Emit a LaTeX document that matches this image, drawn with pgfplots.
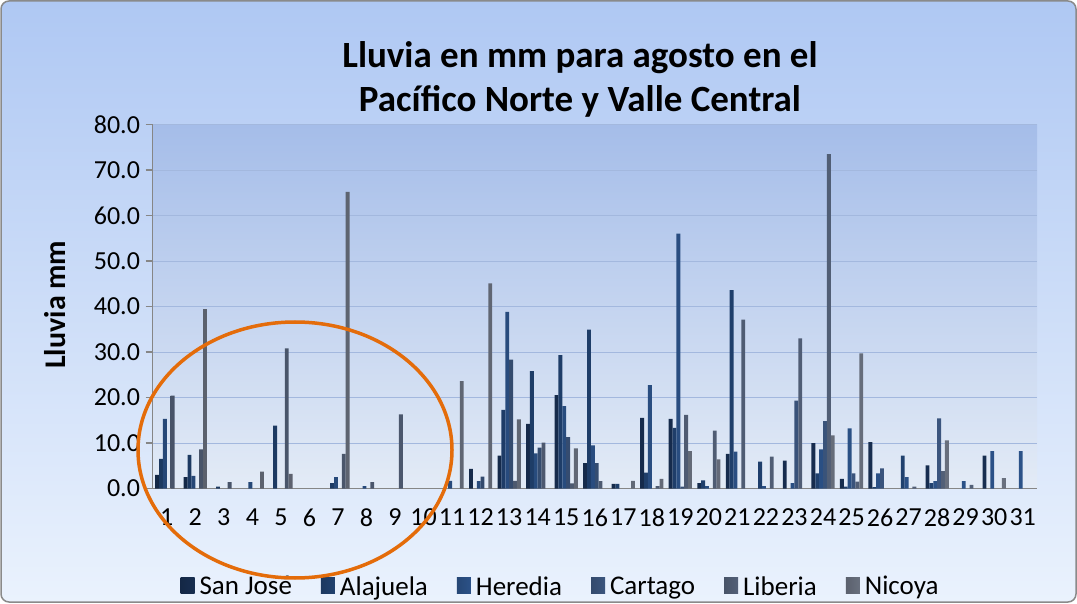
\documentclass[border=0pt]{standalone}
\usepackage{fontspec}
\setmainfont{Carlito}
\usepackage{pgfplots}
\pgfplotsset{compat=1.18}
\usepackage{pgfplotstable}

\definecolor{cSJ}{HTML}{1F3D6B}
\definecolor{cAL}{HTML}{2B5794}
\definecolor{cHE}{HTML}{3A6DB5}
\definecolor{cCA}{HTML}{4F72A8}
\definecolor{cLI}{HTML}{6E80A0}
\definecolor{cNI}{HTML}{8C95A8}
\definecolor{bgtop}{HTML}{AFC8F3}
\definecolor{bgbot}{HTML}{EAF2FD}
\definecolor{patop}{HTML}{A5BDE9}
\definecolor{pabot}{HTML}{E3EBF6}
\definecolor{bordergray}{HTML}{8A8A8A}
\definecolor{axgray}{HTML}{868686}
\definecolor{gridc}{HTML}{A3B8DE}
\definecolor{orangeline}{HTML}{E46C0A}

\pgfplotstableread{
x y
1 3.0
2 2.5
12 4.3
13 7.2
14 14.2
15 20.5
16 5.6
17 1.0
18 15.5
19 15.3
20 1.2
21 7.6
23 6.1
24 10.0
25 2.1
26 10.2
28 5.1
30 7.2
}\sjdata
\pgfplotstableread{
x y
1 6.5
2 7.4
3 0.4
5 13.8
7 1.2
13 17.3
14 25.8
15 29.3
16 34.9
17 1.0
18 3.5
19 13.3
20 1.8
21 43.6
22 5.9
24 3.3
25 0.4
26 0.3
27 7.2
28 1.2
}\aldata
\pgfplotstableread{
x y
1 15.3
2 2.8
4 1.4
7 2.5
8 0.5
11 1.7
12 1.6
13 38.8
14 7.7
15 18.1
16 9.5
18 22.7
19 56.0
20 0.5
21 8.1
22 0.5
23 1.2
24 8.6
25 13.2
26 3.3
27 2.5
28 1.6
29 1.6
30 8.2
31 8.2
}\hedata
\pgfplotstableread{
x y
12 2.6
13 28.3
14 9.0
15 11.3
16 5.6
19 0.4
23 19.3
24 14.8
25 3.3
26 4.4
28 15.4
}\cadata
\pgfplotstableread{
x y
1 20.4
2 8.6
3 1.4
5 30.8
7 7.6
8 1.4
9 16.3
13 1.7
14 10.1
15 1.1
16 1.6
18 0.5
19 16.2
20 12.7
21 37.1
22 7.0
23 33.0
24 73.5
25 1.5
27 0.4
28 3.8
29 0.8
}\lidata
\pgfplotstableread{
x y
2 39.4
4 3.7
5 3.2
7 65.2
11 23.6
12 45.1
13 15.2
15 8.8
17 1.7
18 2.1
19 8.2
20 6.4
24 11.7
25 29.7
28 10.6
30 2.3
}\nidata

\pgfplotsset{
  barstyle/.style={draw=none, left color=#1!65!black, middle color=#1!85!white, right color=#1!75!black},
}

\begin{document}
\begin{tikzpicture}[x=1pt,y=1pt]
\useasboundingbox (0,0) rectangle (1077,603);
\shade[top color=bgtop, bottom color=bgbot, rounded corners=8pt, draw=bordergray, line width=1.5pt] (1,1) rectangle (1076,602);
\node[font=\bfseries\fontsize{37}{44}\selectfont, align=center] at (580,524) {Lluvia en mm para agosto en el\\Pacífico Norte y Valle Central};
\begin{axis}[
  at={(152.5pt,114.5pt)}, anchor=south west,
  scale only axis, width=884.5pt, height=364pt,
  xmin=0.5, xmax=31.5, ymin=0, ymax=80,
  ybar=0pt, bar width=3.87pt,
  every axis plot post/.append style={legend image code/.code={\path[##1,draw=none] (0pt,-7pt) rectangle (14pt,9pt);}},
  axis background/.style={shade, top color=patop, bottom color=pabot},
  axis x line*=bottom, axis y line*=left,
  axis line style={draw=axgray, line width=1.5pt},
  xtick={1,...,31},
  ytick={0,10,...,80},
  x tick style={draw=none},
  y tick style={draw=axgray, line width=1.5pt},
  tick align=outside, major tick length=7pt,
  ymajorgrids, major grid style={draw=gridc, line width=1pt},
  /pgf/number format/assume math mode=true,
  yticklabel style={/pgf/number format/fixed, /pgf/number format/fixed zerofill, /pgf/number format/precision=1, xshift=-2pt},
  tick label style={font=\fontsize{26}{30}\selectfont},
  xticklabel style={yshift=-10pt},
  ylabel={Lluvia mm},
  ylabel style={font=\bfseries\fontsize{30}{34}\selectfont, at={(axis description cs:-0.110,0.505)}, anchor=center},
  legend style={at={(axis description cs:0.463,-0.269)}, anchor=center, legend columns=6, draw=none, fill=none, font=\fontsize{27}{31}\selectfont, nodes={inner xsep=5pt}, /tikz/every even column/.append style={column sep=24pt}},
  clip=false,
]
\addplot[barstyle=cSJ] table {\sjdata};
\addplot[barstyle=cAL] table {\aldata};
\addplot[barstyle=cHE] table {\hedata};
\addplot[barstyle=cCA] table {\cadata};
\addplot[barstyle=cLI] table {\lidata};
\addplot[barstyle=cNI] table {\nidata};
\legend{San José, Alajuela, Heredia, Cartago, Liberia, Nicoya}
\end{axis}
\draw[orangeline, line width=3.5pt] (295,153) ellipse [x radius=157, y radius=128];
\end{tikzpicture}
\end{document}
